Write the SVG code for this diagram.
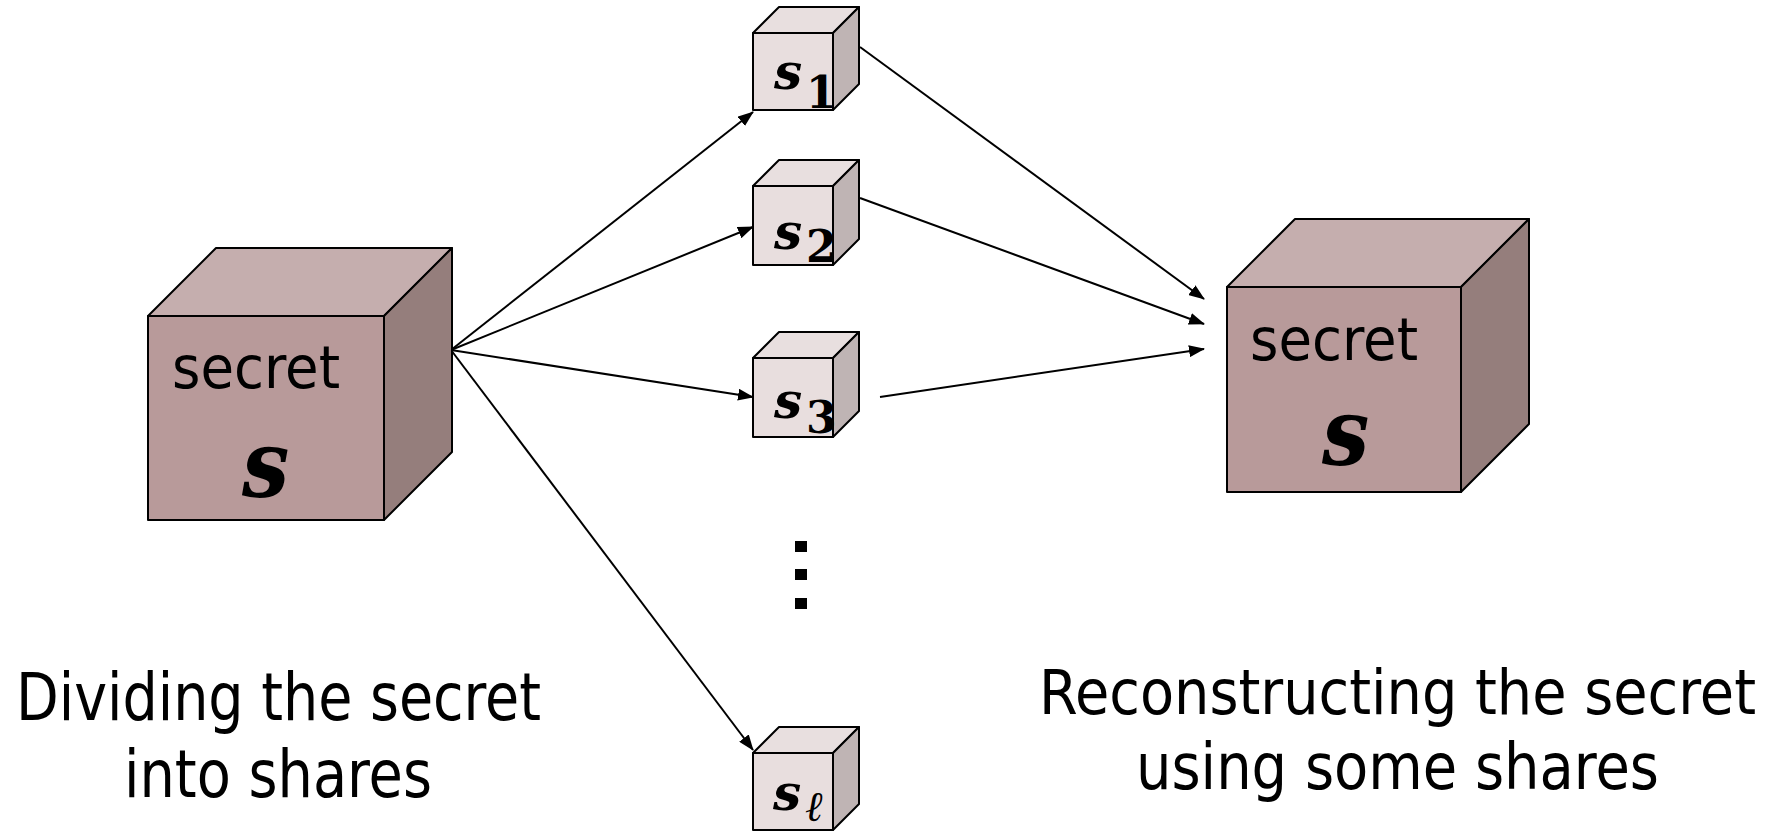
<svg xmlns="http://www.w3.org/2000/svg" width="1767" height="832" viewBox="0 0 1767 832">
  <defs>
    <marker id="arrow" markerUnits="userSpaceOnUse" markerWidth="16" markerHeight="12" refX="15" refY="6" orient="auto">
      <path d="M0,0 L16,6 L0,12 Z" fill="#000"/>
    </marker>
    <style>
      .edge { stroke: #000; stroke-width: 2; fill: none; marker-end: url(#arrow); }
      .big-front { fill: #B89A9A; stroke: #000; stroke-width: 2; stroke-linejoin: round; }
      .big-top { fill: #C5AEAE; stroke: #000; stroke-width: 2; stroke-linejoin: round; }
      .big-side { fill: #957E7C; stroke: #000; stroke-width: 2; stroke-linejoin: round; }
      .sm-front { fill: #E8DEDE; stroke: #000; stroke-width: 2; stroke-linejoin: round; }
      .sm-top { fill: #E8DFDF; stroke: #000; stroke-width: 2; stroke-linejoin: round; }
      .sm-side { fill: #BFB4B4; stroke: #000; stroke-width: 2; stroke-linejoin: round; }
      .sans { font-family: "DejaVu Sans", Verdana, sans-serif; font-stretch: condensed; fill: #000; }
      .math { font-family: "DejaVu Serif", "Liberation Serif", serif; font-style: italic; font-weight: bold; fill: #000; }
      .sub { font-family: "DejaVu Serif", "Liberation Serif", serif; font-weight: bold; fill: #000; }
      .subi { font-family: "DejaVu Serif", "Liberation Serif", serif; font-style: italic; fill: #000; }
    </style>
  </defs>

  <!-- connectors -->
  <g id="connectors">
    <line class="edge" x1="451" y1="350" x2="753" y2="112"/>
    <line class="edge" x1="451" y1="350" x2="753" y2="227"/>
    <line class="edge" x1="451" y1="350" x2="753" y2="397"/>
    <line class="edge" x1="451" y1="350" x2="753" y2="750"/>
    <line class="edge" x1="860" y1="47" x2="1204" y2="299"/>
    <line class="edge" x1="860" y1="198" x2="1204" y2="324"/>
    <line class="edge" x1="880" y1="397" x2="1204" y2="349"/>
  </g>

  <!-- secret being divided -->
  <g id="secret-left">
    <polygon class="big-top" points="148,316 216,248 452,248 384,316"/>
    <polygon class="big-side" points="384,316 452,248 452,452 384,520"/>
    <rect class="big-front" x="148" y="316" width="236" height="204"/>
    <text class="sans" x="172" y="388" font-size="58" textLength="168" lengthAdjust="spacingAndGlyphs">secret</text>
    <text class="math" transform="translate(242,497) scale(1,1.12)" font-size="84">s</text>
  </g>

  <!-- shares -->
  <g id="share-1">
    <polygon class="sm-top" points="753,33 779,7 859,7 833,33"/>
    <polygon class="sm-side" points="833,33 859,7 859,84 833,110"/>
    <rect class="sm-front" x="753" y="33" width="80" height="77"/>
    <text class="math" x="774" y="89" font-size="50">s</text>
    <text class="sub" x="806" y="108" font-size="44">1</text>
  </g>
  <g id="share-2">
    <polygon class="sm-top" points="753,186 779,160 859,160 833,186"/>
    <polygon class="sm-side" points="833,186 859,160 859,239 833,265"/>
    <rect class="sm-front" x="753" y="186" width="80" height="79"/>
    <text class="math" x="774" y="249" font-size="50">s</text>
    <text class="sub" x="806" y="262" font-size="44">2</text>
  </g>
  <g id="share-3">
    <polygon class="sm-top" points="753,358 779,332 859,332 833,358"/>
    <polygon class="sm-side" points="833,358 859,332 859,411 833,437"/>
    <rect class="sm-front" x="753" y="358" width="80" height="79"/>
    <text class="math" x="774" y="418" font-size="50">s</text>
    <text class="sub" x="806" y="433" font-size="44">3</text>
  </g>
  <g id="ellipsis">
    <rect x="795" y="541" width="12" height="11" fill="#000"/>
    <rect x="795" y="569" width="12" height="11" fill="#000"/>
    <rect x="795" y="598" width="12" height="11" fill="#000"/>
  </g>
  <g id="share-l">
    <polygon class="sm-top" points="753,753 779,727 859,727 833,753"/>
    <polygon class="sm-side" points="833,753 859,727 859,804 833,830"/>
    <rect class="sm-front" x="753" y="753" width="80" height="77"/>
    <text class="math" x="773" y="810" font-size="50">s</text>
    <text class="subi" x="805" y="821" font-size="42">ℓ</text>
  </g>

  <!-- reconstructed secret -->
  <g id="secret-right">
    <polygon class="big-top" points="1227,287 1295,219 1529,219 1461,287"/>
    <polygon class="big-side" points="1461,287 1529,219 1529,424 1461,492"/>
    <rect class="big-front" x="1227" y="287" width="234" height="205"/>
    <text class="sans" x="1250" y="360" font-size="58" textLength="168" lengthAdjust="spacingAndGlyphs">secret</text>
    <text class="math" transform="translate(1322,465) scale(1,1.12)" font-size="84">s</text>
  </g>

  <!-- captions -->
  <g id="caption-left">
    <text class="sans" x="16" y="720" font-size="66" textLength="525" lengthAdjust="spacingAndGlyphs">Dividing the secret</text>
    <text class="sans" x="124" y="797" font-size="66" textLength="308" lengthAdjust="spacingAndGlyphs">into shares</text>
  </g>
  <g id="caption-right">
    <text class="sans" x="1039" y="714" font-size="63" textLength="717" lengthAdjust="spacingAndGlyphs">Reconstructing the secret</text>
    <text class="sans" x="1136" y="789" font-size="64" textLength="523" lengthAdjust="spacingAndGlyphs">using some shares</text>
  </g>
</svg>
